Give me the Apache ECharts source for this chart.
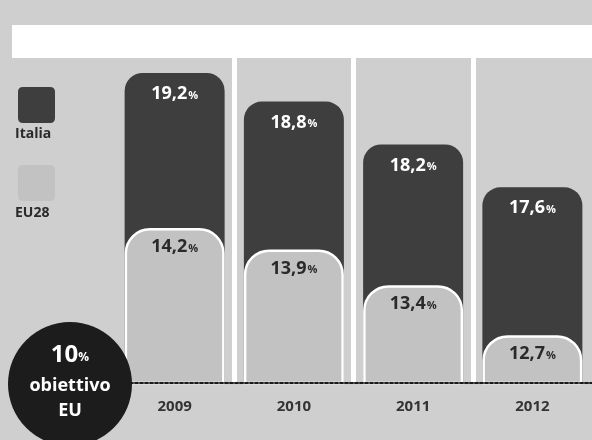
<!DOCTYPE html>
<html>
<head>
<meta charset="utf-8">
<script src="https://cdn.jsdelivr.net/npm/echarts@6/dist/echarts.min.js"></script>
<style>
html,body{margin:0;padding:0;background:#cfcfcf;}
#chart{width:592px;height:440px;}
</style>
</head>
<body>
<div id="chart"></div>
<script>
var years = ['2009', '2010', '2011', '2012'];
var italia = [19.2, 18.8, 18.2, 17.6];
var eu28 = [14.2, 13.9, 13.4, 12.7];
var seriesNames = ['Italia', 'EU28'];
var badgeLines = ['10', '%', 'obiettivo', 'EU'];

var FONT = '"Open Sans", "DejaVu Sans", sans-serif';
function fmt(p) {
  return '{n|' + String(p.value).replace('.', ',') + '}{p|%}';
}

var chart = echarts.init(document.getElementById('chart'), null, {renderer: 'canvas'});
chart.setOption({
  animation: false,
  backgroundColor: '#cfcfcf',
  grid: {left: 115, right: 0, top: 58, bottom: 57, outerBoundsMode: 'none'},
  legend: {
    orient: 'vertical', left: 13, top: 82,
    itemWidth: 37, itemHeight: 36, itemGap: 42,
    icon: 'path://M5,0 H32 Q37,0 37,5 V31 Q37,36 32,36 H5 Q0,36 0,31 V5 Q0,0 5,0 Z',
    selectedMode: false,
    itemStyle: {borderWidth: 0},
    formatter: function () { return ''; },
    data: seriesNames
  },
  xAxis: {
    type: 'category',
    data: years,
    z: 10,
    axisTick: {show: false},
    axisLine: {lineStyle: {color: '#1a1a1a', width: 2, type: [3, 2]}},
    axisLabel: {margin: 16, fontSize: 15, fontWeight: 'bold', color: '#333', fontFamily: FONT},
    splitLine: {show: true, showMinLine: false, showMaxLine: false, lineStyle: {color: '#ffffff', width: 5}}
  },
  yAxis: [
    {type: 'value', min: 14.86, max: 19.41, show: false, splitLine: {show: false}},
    {type: 'value', min: 12.03, max: 16.58, show: false, splitLine: {show: false}}
  ],
  series: [
    {
      name: seriesNames[0], type: 'bar', yAxisIndex: 0, data: italia,
      barWidth: 100, barGap: '-100%', z: 2,
      itemStyle: {color: '#3e3e3e', borderRadius: [18, 18, 0, 0]},
      label: {
        show: true, position: 'insideTop', distance: 12, formatter: fmt,
        rich: {
          n: {fontSize: 18, fontWeight: 'bold', color: '#ffffff', fontFamily: FONT},
          p: {fontSize: 11, fontWeight: 'bold', color: '#ffffff', fontFamily: FONT, padding: [3, 0, 0, 1]}
        }
      }
    },
    {
      name: seriesNames[1], type: 'bar', yAxisIndex: 1, data: eu28,
      barWidth: 100, barGap: '-100%', z: 3,
      itemStyle: {color: '#c2c2c2', borderColor: '#ffffff', borderWidth: 2.5, borderRadius: [24, 24, 0, 0]},
      label: {
        show: true, position: 'insideTop', distance: 10, formatter: fmt,
        rich: {
          n: {fontSize: 18, fontWeight: 'bold', color: '#2a2a2a', fontFamily: FONT},
          p: {fontSize: 11, fontWeight: 'bold', color: '#2a2a2a', fontFamily: FONT, padding: [3, 0, 0, 1]}
        }
      }
    }
  ],
  graphic: [
    {type: 'rect', z: -10, silent: true, shape: {x: 12, y: 25, width: 580, height: 33}, style: {fill: '#ffffff'}},
    {type: 'text', z: 10, left: 15, top: 127, style: {text: seriesNames[0], fill: '#2a2a2a', font: 'bold 14px ' + FONT}},
    {type: 'text', z: 10, left: 15, top: 206, style: {text: seriesNames[1], fill: '#2a2a2a', font: 'bold 14px ' + FONT}},
    {type: 'circle', z: 100, shape: {cx: 70, cy: 384, r: 62}, style: {fill: '#1c1c1c'}},
    {type: 'text', z: 101, x: 70, y: 355, style: {
      text: '{a|' + badgeLines[0] + '}{b|' + badgeLines[1] + '}',
      align: 'center', verticalAlign: 'middle',
      rich: {
        a: {font: 'bold 24px ' + FONT, fill: '#ffffff'},
        b: {font: 'bold 12px ' + FONT, fill: '#ffffff', padding: [6, 0, 0, 0]}
      }
    }},
    {type: 'text', z: 101, x: 70, y: 386, style: {text: badgeLines[2], align: 'center', verticalAlign: 'middle', fill: '#ffffff', font: 'bold 18px ' + FONT}},
    {type: 'text', z: 101, x: 70, y: 411, style: {text: badgeLines[3], align: 'center', verticalAlign: 'middle', fill: '#ffffff', font: 'bold 18px ' + FONT}}
  ]
});
</script>
</body>
</html>
